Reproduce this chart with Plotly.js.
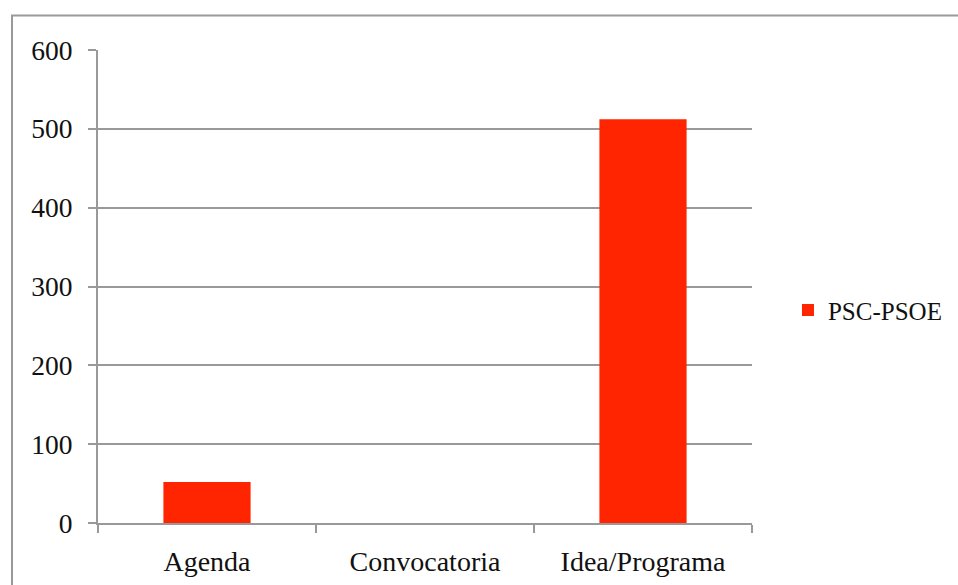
<!DOCTYPE html>
<html>
<head>
<meta charset="utf-8">
<script src="https://cdn.plot.ly/plotly-3.0.1.min.js"></script>
<style>html,body{margin:0;padding:0;background:#fff;}#chart{width:958px;height:585px;}</style>
</head>
<body>
<div id="chart"></div>
<script>
var categories = ["Agenda", "Convocatoria", "Idea/Programa"];
var seriesName = "PSC-PSOE";
var values = [52, 0, 512];
var yTicks = [0, 100, 200, 300, 400, 500, 600];

var font = "'Liberation Serif', 'DejaVu Serif', serif";
var gray = "#999999";
var fs = 26.5;

var trace = {
  type: "bar",
  x: categories,
  y: values,
  name: seriesName,
  marker: {color: "#ff2500", line: {width: 0}},
  width: 0.4,
  showlegend: true
};

var layout = {
  width: 958, height: 585,
  margin: {l: 98, r: 206, t: 50, b: 62, pad: 0, autoexpand: false},
  paper_bgcolor: "#ffffff",
  plot_bgcolor: "#ffffff",
  font: {family: font, size: fs, color: "#111111"},
  showlegend: true,
  legend: {x: 1.055, y: 0.45, xanchor: "left", yanchor: "middle", font: {family: font, size: 25, color: "#111"}, itemwidth: 30, bgcolor: "rgba(0,0,0,0)"},
  xaxis: {
    type: "category",
    automargin: false,
    showgrid: false,
    showline: true, linecolor: gray, linewidth: 2,
    ticks: "outside", tickson: "boundaries", ticklen: 8, tickcolor: gray, tickwidth: 2,
    tickfont: {family: font, size: 28, color: "#111"},
    ticklabelstandoff: 12,
    zeroline: false,
    fixedrange: true
  },
  yaxis: {
    automargin: false,
    range: [0, 600],
    tickvals: yTicks,
    ticktext: yTicks.map(String),
    showgrid: true, gridcolor: gray, gridwidth: 2,
    showline: true, linecolor: gray, linewidth: 2,
    ticks: "outside", ticklen: 8, tickcolor: gray, tickwidth: 2,
    tickfont: {family: font, size: 27.5, color: "#111"},
    ticklabelstandoff: 10,
    zeroline: false,
    fixedrange: true
  },
  shapes: [{
    type: "rect", xref: "paper", yref: "paper",
    x0: (12 - 98) / 654, x1: 1.6,
    y0: -0.3, y1: (523 - 15.5) / 473,
    line: {color: gray, width: 2}, fillcolor: "rgba(0,0,0,0)", layer: "below"
  }]
};

Plotly.newPlot("chart", [trace], layout, {displayModeBar: false, staticPlot: true});
</script>
</body>
</html>
